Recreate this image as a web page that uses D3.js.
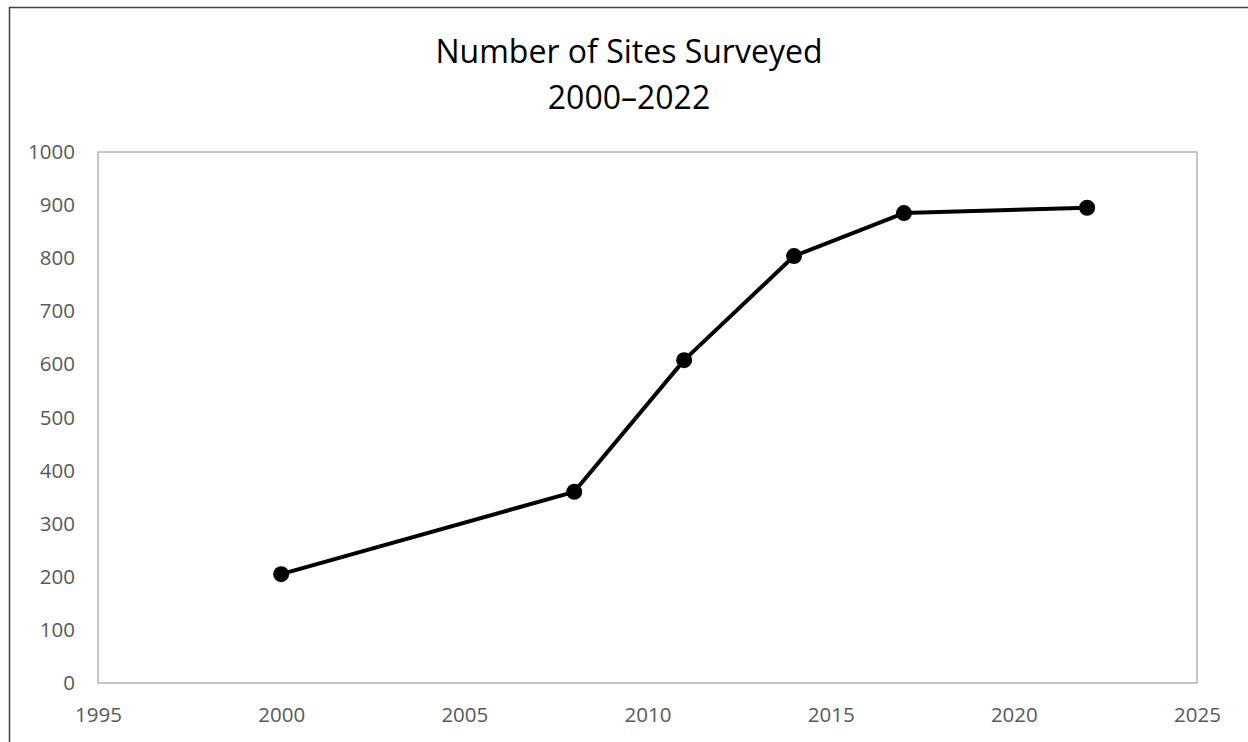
<!DOCTYPE html>
<html>
<head>
<meta charset="utf-8">
<script src="https://cdn.jsdelivr.net/npm/d3@7"></script>
<style>
  html, body { margin: 0; padding: 0; background: #fff; }
  svg { display: block; }
</style>
</head>
<body>
<svg id="chart" width="1248" height="742"></svg>
<script>
// Survey counts by year
const years = [2000, 2008, 2011, 2014, 2017, 2022];
const sites = [205, 360, 608, 804, 885, 895];
const xTicks = [1995, 2000, 2005, 2010, 2015, 2020, 2025];
const yTicks = [0, 100, 200, 300, 400, 500, 600, 700, 800, 900, 1000];
const titleLines = ["Number of Sites Surveyed", "2000\u20132022"];

const W = 1248, H = 742;
const plot = { left: 98, right: 1197, top: 152, bottom: 683 };
const font = "'Open Sans', 'Noto Sans', sans-serif";

const svg = d3.select("#chart");

// Outer chart frame (extends past the right and bottom edges)
svg.append("rect")
  .attr("x", 9.5).attr("y", 7.5)
  .attr("width", W + 20).attr("height", H + 20)
  .attr("fill", "none").attr("stroke", "#404040").attr("stroke-width", 1.5);

const x = d3.scaleLinear().domain([1995, 2025]).range([plot.left, plot.right]);
const y = d3.scaleLinear().domain([0, 1000]).range([plot.bottom, plot.top]);

// Plot area border
svg.append("rect")
  .attr("x", plot.left).attr("y", plot.top)
  .attr("width", plot.right - plot.left).attr("height", plot.bottom - plot.top)
  .attr("fill", "none").attr("stroke", "#a6a6a6").attr("stroke-width", 1.3);

// Axes: labels only, no tick marks or domain lines
const xAxis = d3.axisBottom(x).tickValues(xTicks).tickFormat(d3.format("d")).tickSize(0).tickPadding(24);
const yAxis = d3.axisLeft(y).tickValues(yTicks).tickFormat(d3.format("d")).tickSize(0).tickPadding(23);

const gx = svg.append("g").attr("transform", `translate(0,${plot.bottom})`).call(xAxis);
const gy = svg.append("g").attr("transform", `translate(${plot.left},0)`).call(yAxis);
[gx, gy].forEach(g => {
  g.select(".domain").remove();
  g.selectAll("text")
    .attr("font-family", font)
    .attr("font-size", 20.5)
    .attr("fill", "#595959");
});

// Title
const title = svg.append("text")
  .attr("x", 629).attr("y", 63)
  .attr("text-anchor", "middle")
  .attr("font-family", font)
  .attr("font-size", 32)
  .attr("fill", "#000");
titleLines.forEach((t, i) => {
  title.append("tspan").attr("x", 629).attr("dy", i === 0 ? 0 : 46).text(t);
});

// Series line and markers
const data = years.map((yr, i) => ({ year: yr, value: sites[i] }));
const line = d3.line().x(d => x(d.year)).y(d => y(d.value));

svg.append("path")
  .datum(data)
  .attr("d", line)
  .attr("fill", "none")
  .attr("stroke", "#000")
  .attr("stroke-width", 4)
  .attr("stroke-linejoin", "round");

svg.selectAll("circle.pt")
  .data(data)
  .enter().append("circle")
  .attr("class", "pt")
  .attr("cx", d => x(d.year))
  .attr("cy", d => y(d.value))
  .attr("r", 8)
  .attr("fill", "#000");
</script>
</body>
</html>
